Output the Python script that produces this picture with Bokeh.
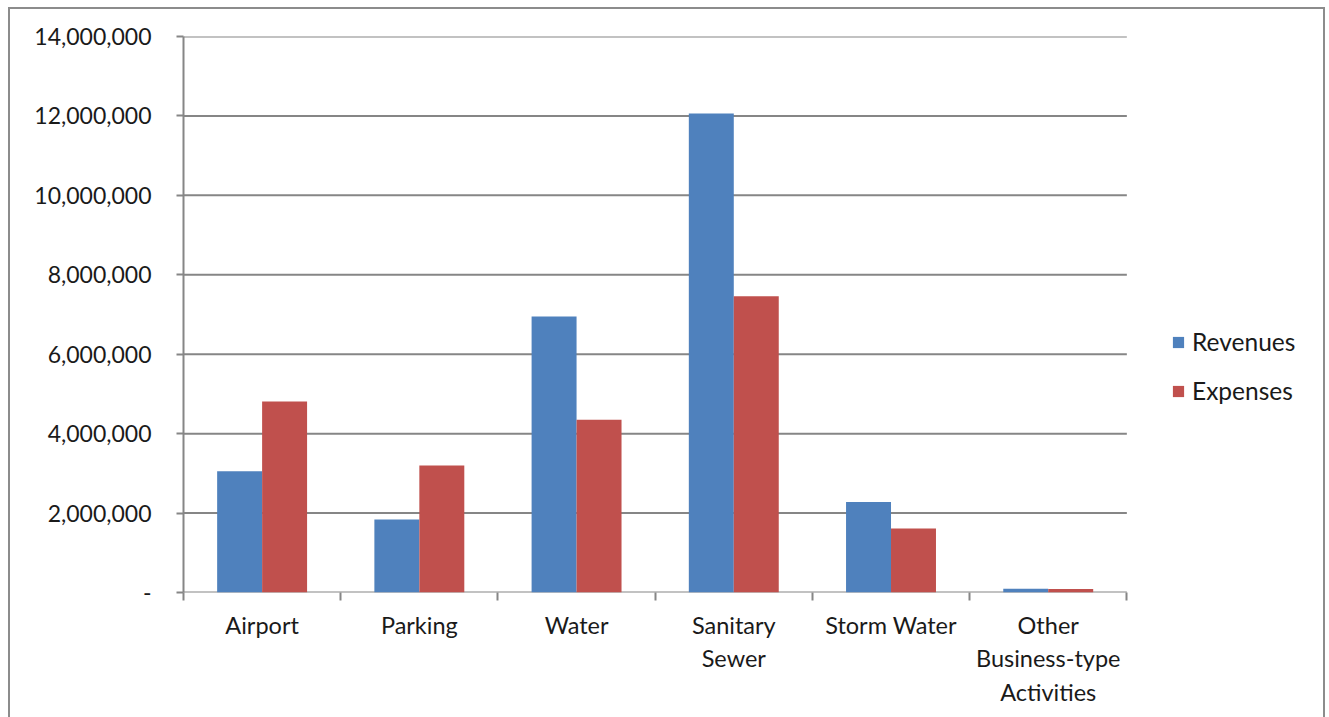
from bokeh.plotting import figure
from bokeh.models import ColumnDataSource, Range1d, FixedTicker, NumeralTickFormatter, Legend, LegendItem
from bokeh.embed import file_html
from bokeh.resources import INLINE

categories = ["Airport", "Parking", "Water", "Sanitary\nSewer", "Storm Water", "Other\nBusiness-type\nActivities"]
revenues = [3050000, 1840000, 6950000, 12060000, 2280000, 95000]
expenses = [4810000, 3200000, 4350000, 7460000, 1610000, 90000]
y_ticks = [0, 2000000, 4000000, 6000000, 8000000, 10000000, 12000000, 14000000]

BLUE = "#4F81BD"
RED = "#C0504D"
GRID = "#868686"
FONT = "Lato"
FS_Y = "23px"
FS_X = "23.5px"
FS_L = "24.5px"
TXT = "#1a1a1a"

n = len(categories)
centers = [i + 0.5 for i in range(n)]
bw = 0.286
src = ColumnDataSource(dict(
    xr=[c - bw / 2 for c in centers],
    xe=[c + bw / 2 for c in centers],
    rev=revenues,
    exp=expenses,
))
grid_src = ColumnDataSource(dict(x0=[0] * len(y_ticks), x1=[n] * len(y_ticks), y=y_ticks))

# frame spans the legend area too; the category axis occupies 945 of its ~1146 px
x_end = n * 1146 / 945

p = figure(width=1317, height=710, output_backend="svg", toolbar_location=None,
           x_range=Range1d(0, x_end), y_range=Range1d(0, 14000000),
           min_border_left=173, min_border_right=0, min_border_top=27, min_border_bottom=127)
p.styles = {"margin-left": "8px", "margin-top": "7px",
            "border-left": "2px solid #8c8c8c", "border-top": "2px solid #8c8c8c",
            "border-right": "2px solid #8c8c8c", "box-sizing": "border-box"}
p.outline_line_color = None
p.background_fill_color = "white"
p.border_fill_color = "white"

# horizontal gridlines across the category area only
p.segment(x0="x0", x1="x1", y0="y", y1="y", source=grid_src, line_color=GRID, line_width=2)

r1 = p.vbar(x="xr", top="rev", width=bw, bottom=0, source=src, fill_color=BLUE, line_color=None)
r2 = p.vbar(x="xe", top="exp", width=bw, bottom=0, source=src, fill_color=RED, line_color=None)

# y axis
p.yaxis.ticker = FixedTicker(ticks=y_ticks)
p.yaxis.formatter = NumeralTickFormatter(format="0,0")
p.yaxis.major_label_overrides = {0: "-"}
p.yaxis.axis_line_color = GRID
p.yaxis.axis_line_width = 2
p.yaxis.major_tick_line_color = GRID
p.yaxis.major_tick_line_width = 2
p.yaxis.major_tick_out = 7
p.yaxis.major_tick_in = 0
p.yaxis.minor_tick_line_color = None
p.yaxis.major_label_standoff = 25
p.yaxis.major_label_text_font = FONT
p.yaxis.major_label_text_font_size = FS_Y
p.yaxis.major_label_text_color = TXT

# x axis: labels at category centres, tick marks at category boundaries
p.xaxis.ticker = FixedTicker(ticks=centers, minor_ticks=list(range(n + 1)))
p.xaxis.major_label_overrides = {c: lab for c, lab in zip(centers, categories)}
p.xaxis.axis_line_color = None
p.xaxis.major_tick_line_color = None
p.xaxis.minor_tick_line_color = GRID
p.xaxis.minor_tick_line_width = 2
p.xaxis.minor_tick_out = 8
p.xaxis.minor_tick_in = 0
p.xaxis.major_label_standoff = 10
p.xaxis.major_label_text_font = FONT
p.xaxis.major_label_text_font_size = FS_X
p.xaxis.major_label_text_color = TXT

p.xgrid.grid_line_color = None
p.ygrid.grid_line_color = None

legend = Legend(items=[LegendItem(label="Revenues", renderers=[r1]),
                       LegendItem(label="Expenses", renderers=[r2])],
                location=(988, 187))
legend.border_line_color = None
legend.background_fill_alpha = 0
legend.padding = 0
legend.margin = 0
legend.spacing = 20
legend.glyph_width = 14
legend.glyph_height = 14
legend.label_height = 28
legend.label_standoff = 7
legend.label_text_font = FONT
legend.label_text_font_size = FS_L
legend.label_text_color = TXT
p.add_layout(legend, "center")

open("out.html", "w").write(file_html(p, INLINE))
